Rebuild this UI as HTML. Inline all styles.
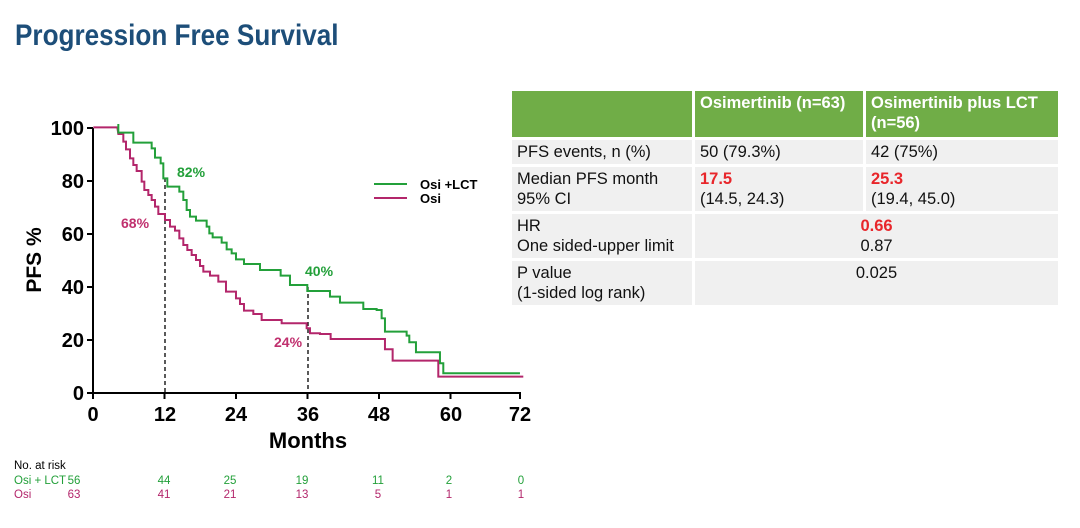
<!DOCTYPE html>
<html><head><meta charset="utf-8"><style>
body{margin:0;width:1080px;height:528px;background:#fff;position:relative;overflow:hidden;font-family:"Liberation Sans",sans-serif}
.t{position:absolute;white-space:nowrap}
table{position:absolute;left:509px;top:88px;border-collapse:separate;border-spacing:3px;font-size:16.5px;color:#111}
td{background:#f0f0f0;padding:2px 5px;vertical-align:top;line-height:20px;white-space:nowrap}
th{background:#70ad47;color:#fff;text-align:left;font-weight:bold;padding:2px 5px;vertical-align:top;line-height:20px}
.r{color:#e8262b;font-weight:bold}
</style></head><body>
<div class="t" style="left:15px;top:19px;font-family:'Liberation Sans Narrow','Liberation Sans',sans-serif;font-weight:bold;font-size:30px;color:#1d4e79;transform:scaleX(0.87);transform-origin:left">Progression Free Survival</div>
<svg width="1080" height="528" style="position:absolute;left:0;top:0" font-family="Liberation Sans, sans-serif">
<g stroke="#000" stroke-width="2" fill="none">
<line x1="93" y1="128" x2="93" y2="394"/><line x1="92" y1="393" x2="521" y2="393"/>
<line x1="87" y1="128" x2="93" y2="128"/><line x1="87" y1="181" x2="93" y2="181"/><line x1="87" y1="234" x2="93" y2="234"/><line x1="87" y1="287" x2="93" y2="287"/><line x1="87" y1="340" x2="93" y2="340"/><line x1="87" y1="393" x2="93" y2="393"/>
<line x1="93" y1="393" x2="93" y2="399"/><line x1="164.5" y1="393" x2="164.5" y2="399"/><line x1="236" y1="393" x2="236" y2="399"/><line x1="307.5" y1="393" x2="307.5" y2="399"/><line x1="379" y1="393" x2="379" y2="399"/><line x1="450.5" y1="393" x2="450.5" y2="399"/><line x1="520" y1="393" x2="520" y2="399"/>
</g>
<g stroke="#000" stroke-width="1.3" stroke-dasharray="4,3"><line x1="165" y1="178" x2="165" y2="393"/><line x1="308" y1="287" x2="308" y2="393"/></g>
<g transform="translate(90,110) scale(0.3333)" fill="none" stroke-width="6">
<polyline stroke="#b3266b" points="10,52 82,52 85,72 100,72 100,95 108,95 108,118 120,118 120,145 130,145 130,165 140,165 140,183 155,183 155,215 163,215 163,240 175,240 175,255 185,255 185,270 195,270 195,290 205,290 205,312 225,312 225,330 240,330 240,350 255,350 255,362 268,362 268,385 280,385 280,405 292,405 292,420 305,420 305,435 318,435 318,450 330,450 330,468 340,468 340,485 360,485 360,497 385,497 385,515 408,515 408,545 438,545 438,565 450,565 450,582 462,582 462,602 490,602 490,612 515,612 515,630 575,630 575,640 650,640 650,655 660,655 660,670 690,670 690,672 722,672 722,687 885,687 885,718 908,718 908,752 1045,752 1045,800 1300,800"/>
<polyline stroke="#23a03a" points="85,42 85,68 130,68 130,98 185,98 185,115 195,115 195,143 212,143 212,160 220,160 220,205 232,205 232,230 268,230 268,245 280,245 280,270 290,270 290,300 300,300 300,320 318,320 318,332 350,332 350,350 358,350 358,370 368,370 368,382 395,382 395,398 410,398 410,418 425,418 425,430 438,430 438,448 462,448 462,462 510,462 510,480 572,480 572,497 600,497 600,525 652,525 652,543 720,543 720,560 750,560 750,578 820,578 820,597 860,597 860,600 875,600 875,625 885,625 885,665 950,665 950,677 958,677 958,697 978,697 978,727 1050,727 1050,760 1060,760 1060,790 1290,790"/>
</g>
<line x1="374" y1="184" x2="407" y2="184" stroke="#23a03a" stroke-width="2"/>
<line x1="374" y1="198" x2="407" y2="198" stroke="#b3266b" stroke-width="2"/>
<g font-weight="bold" font-size="13" fill="#000"><text x="420" y="189">Osi +LCT</text><text x="420" y="203">Osi</text></g>
<g font-weight="bold" font-size="14"><text x="177" y="177" fill="#23a03a">82%</text><text x="305" y="276" fill="#23a03a">40%</text><text x="121" y="228" fill="#c0306e">68%</text><text x="274" y="347" fill="#c0306e">24%</text></g>
<g font-weight="bold" font-size="20" text-anchor="end"><text x="84" y="135">100</text><text x="84" y="188">80</text><text x="84" y="241">60</text><text x="84" y="294">40</text><text x="84" y="347">20</text><text x="84" y="400">0</text></g>
<g font-weight="bold" font-size="20" text-anchor="middle"><text x="93" y="421">0</text><text x="165" y="421">12</text><text x="236" y="421">24</text><text x="308" y="421">36</text><text x="379" y="421">48</text><text x="451" y="421">60</text><text x="520" y="421">72</text>
<text x="308" y="448" font-size="22">Months</text>
<text transform="translate(41,260) rotate(-90)" font-size="21">PFS %</text></g>
<g font-size="11.5"><text x="14" y="469">No. at risk</text>
<g fill="#23a03a"><text x="14" y="484">Osi + LCT</text><g text-anchor="middle"><text x="74" y="484">56</text><text x="164" y="484">44</text><text x="230" y="484">25</text><text x="302" y="484">19</text><text x="378" y="484">11</text><text x="449" y="484">2</text><text x="521" y="484">0</text></g></g>
<g fill="#b3266b"><text x="14" y="498">Osi</text><g text-anchor="middle"><text x="74" y="498">63</text><text x="164" y="498">41</text><text x="230" y="498">21</text><text x="302" y="498">13</text><text x="378" y="498">5</text><text x="449" y="498">1</text><text x="521" y="498">1</text></g></g></g>
</svg>
<table>
<tr style="height:46px"><th style="width:170px"></th><th style="width:158px">Osimertinib (n=63)</th><th style="width:182px">Osimertinib plus LCT<br>(n=56)</th></tr>
<tr><td>PFS events, n (%)</td><td>50 (79.3%)</td><td>42 (75%)</td></tr>
<tr><td>Median PFS month<br>95% CI</td><td><span class="r">17.5</span><br>(14.5, 24.3)</td><td><span class="r">25.3</span><br>(19.4, 45.0)</td></tr>
<tr><td>HR<br>One sided-upper limit</td><td colspan="2" style="text-align:center"><span class="r">0.66</span><br>0.87</td></tr>
<tr><td>P value<br>(1-sided log rank)</td><td colspan="2" style="text-align:center">0.025<br>&nbsp;</td></tr>
</table>
</body></html>
